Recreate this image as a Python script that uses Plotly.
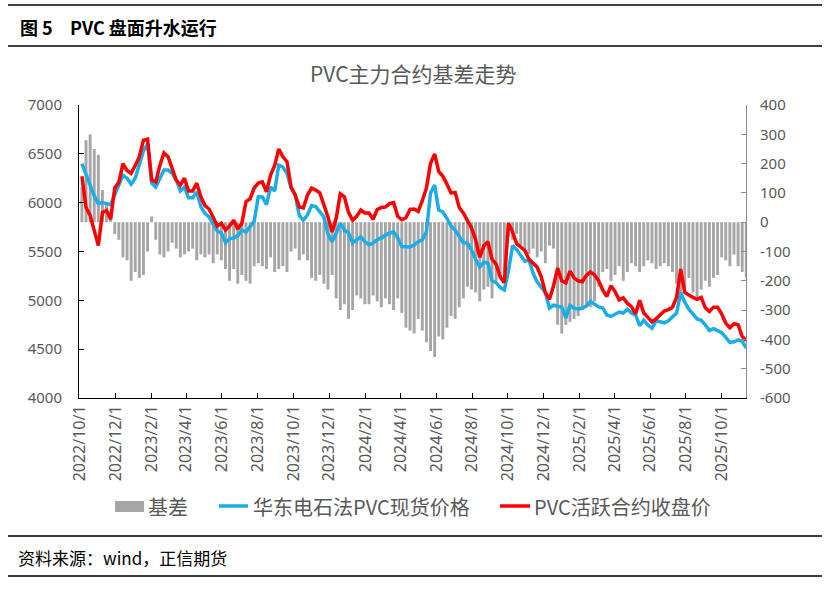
import pandas as pd
import plotly.graph_objects as go

# ---------------- data (weekly readings from the chart) ----------------
week_start = "2022-10-05"
n_weeks = 163

# 基差 (right axis)
basis = [
    120, 280, 300, 250, 230, 110, 60, 40, -40, -60,
    -120, -130, -200, -170, -190, -180, -100, 20, -60, -110,
    -120, -100, -70, -90, -120, -110, -100, -90, -130, -110,
    -120, -110, -140, -110, -130, -160, -200, -160, -210, -180,
    -200, -210, -150, -140, -150, -160, -120, -170, -160, -150,
    -170, -100, -90, -130, -110, -130, -190, -200, -180, -210,
    -230, -180, -260, -300, -280, -330, -300, -250, -260, -280,
    -280, -250, -270, -290, -260, -280, -300, -260, -310, -360,
    -370, -380, -330, -370, -410, -440, -460, -390, -400, -360,
    -320, -330, -290, -260, -220, -230, -240, -270, -230, -220,
    -260, -200, -190, -180, -50, -60, -40, -80, -100, -110,
    -90, -120, -100, -140, -80, -90, -350, -380, -350, -340,
    -330, -320, -300, -290, -290, -270, -220, -170, -160, -200,
    -180, -150, -200, -170, -140, -150, -170, -150, -130, -140,
    -160, -150, -140, -150, -170, -210, -250, -230, -190, -240,
    -260, -230, -200, -220, -190, -180, -120, -130, -150, -110,
    -150, -170, -190,
]

# 华东电石法PVC现货价格 (left axis)
spot = [
    6400, 6290, 6170, 6070, 5990, 6000, 5990, 5980, 6080, 6180,
    6280, 6250, 6190, 6250, 6380, 6530, 6600, 6200, 6160, 6250,
    6334, 6334, 6300, 6230, 6120, 6160, 6050, 6050, 6110, 5960,
    5890, 5853, 5780, 5710, 5690, 5590, 5630, 5640, 5660, 5720,
    5700, 5760, 5810, 6060, 6058, 5980, 6160, 6120, 6385, 6365,
    6300, 6150, 6080, 5870, 5820, 5874, 5970, 5960, 5900, 5853,
    5680, 5600, 5690, 5790, 5720, 5690, 5590, 5618, 5650, 5600,
    5570, 5587, 5620, 5640, 5670, 5690, 5700, 5640, 5550, 5546,
    5546, 5567, 5600, 5618, 5700, 6100, 6180, 5925, 5904, 5840,
    5760, 5720, 5660, 5590, 5587, 5515, 5420, 5341, 5390, 5382,
    5200, 5180, 5130, 5105, 5300, 5560, 5520, 5460, 5400, 5413,
    5280, 5190, 5140, 5080, 4921, 4950, 4940, 4932, 4820, 4950,
    4920, 4910, 4921, 4940, 4990, 4960, 4932, 4921, 4850, 4835,
    4860, 4880, 4870, 4910, 4870, 4850, 4740, 4798, 4747, 4716,
    4790, 4778, 4770, 4790, 4830, 4870, 5080, 4980, 4910, 4865,
    4810, 4795, 4750, 4690, 4710, 4690, 4670, 4620, 4570, 4575,
    4594, 4580, 4510,
]

# PVC活跃合约收盘价 (left axis)
futures = [
    6270, 5950, 5870, 5720, 5560, 5900, 5920, 5830, 6150, 6210,
    6400, 6330, 6300, 6380, 6470, 6640, 6650, 6232, 6210, 6380,
    6510, 6470, 6360, 6230, 6180, 6250, 6120, 6120, 6200, 6060,
    5970, 5935, 5850, 5760, 5790, 5720, 5760, 5820, 5730, 5790,
    6010, 6040, 6150, 6200, 6212, 6110, 6283, 6380, 6550, 6470,
    6420, 6160, 6080, 5955, 5945, 6078, 6150, 6130, 6100, 5980,
    5853, 5700, 5840, 6090, 6060, 5900, 5820, 5860, 5925, 5894,
    5894, 5830, 5930, 5950, 5955, 5990, 6000, 5860, 5825, 5845,
    5930, 5935, 5910, 6020, 6150, 6400, 6500, 6320, 6270, 6190,
    6100, 6105, 5950, 5895, 5820, 5740, 5620, 5440, 5560, 5600,
    5420, 5370, 5240, 5180, 5790, 5700, 5580, 5540, 5510, 5420,
    5380, 5340, 5240, 5080, 5010, 5150, 5330, 5200, 5180, 5300,
    5230, 5200, 5190, 5255, 5290, 5260, 5200, 5105, 5040, 5150,
    5090, 5005, 5024, 4970, 4935, 4860, 5000, 4870, 4825, 4780,
    4810, 4850, 4890, 4905, 4930, 5030, 5320, 5080, 5050, 5030,
    5010, 5030, 4925, 4885, 4930, 4930, 4860, 4765, 4720, 4760,
    4750, 4630, 4590,
]

x_tick_labels = [
    "2022/10/1", "2022/12/1", "2023/2/1", "2023/4/1", "2023/6/1", "2023/8/1",
    "2023/10/1", "2023/12/1", "2024/2/1", "2024/4/1", "2024/6/1", "2024/8/1",
    "2024/10/1", "2024/12/1", "2025/2/1", "2025/4/1", "2025/6/1", "2025/8/1",
    "2025/10/1",
]
left_ticks = [4000, 4500, 5000, 5500, 6000, 6500, 7000]
right_ticks = [-600, -500, -400, -300, -200, -100, 0, 100, 200, 300, 400]
right_tick_labels = ["-600", "-500", "-400", "-300", "-200", "-100", "0",
                     "100", "200", "300", "400"]

series_names = ["基差", "华东电石法PVC现货价格", "PVC活跃合约收盘价"]
header_no = "图 5"
header_text = "PVC 盘面升水运行"
chart_title = "PVC主力合约基差走势"
source_text = "资料来源：wind，正信期货"

# ---------------- layout helpers ----------------
W, H = 833, 591
L, R, T, B = 79, 746, 105, 398


def px(x):
    return (x - L) / (R - L)


def py(y):
    return (B - y) / (B - T)


dates = pd.date_range(week_start, periods=n_weeks, freq="7D")
tick_vals = pd.to_datetime(x_tick_labels, format="%Y/%m/%d")

NUM_FONT = "Noto Sans, Liberation Sans, sans-serif"
CJK_FONT = "Noto Sans CJK SC, Noto Sans, sans-serif"
GRAY_TXT = "#595959"
BAR_C = "#A6A6A6"
BLUE = "#1AADE8"
RED = "#FF0000"

fig = go.Figure()
fig.add_trace(go.Bar(
    x=dates, y=basis, name=series_names[0], yaxis="y",
    width=5 * 86400000, marker=dict(color=BAR_C, line=dict(width=0)),
    showlegend=False,
))
fig.add_trace(go.Scatter(
    x=dates, y=spot, name=series_names[1], yaxis="y2", mode="lines",
    line=dict(color=BLUE, width=3.5), showlegend=False,
))
fig.add_trace(go.Scatter(
    x=dates, y=futures, name=series_names[2], yaxis="y2", mode="lines",
    line=dict(color=RED, width=3.5), showlegend=False,
))

shapes = []
for yy in (5, 46, 536, 576):
    shapes.append(dict(type="line", xref="paper", yref="paper",
                       x0=px(8), x1=px(822), y0=py(yy), y1=py(yy),
                       line=dict(color="black", width=1.3)))
# manual legend symbols
shapes.append(dict(type="rect", xref="paper", yref="paper",
                   x0=px(115), x1=px(144), y0=py(512), y1=py(501),
                   fillcolor=BAR_C, line=dict(width=0)))
shapes.append(dict(type="line", xref="paper", yref="paper",
                   x0=px(219), x1=px(248), y0=py(506), y1=py(506),
                   line=dict(color=BLUE, width=3.5)))
shapes.append(dict(type="line", xref="paper", yref="paper",
                   x0=px(500), x1=px(530), y0=py(506), y1=py(506),
                   line=dict(color=RED, width=3.5)))

annotations = [
    dict(text="<b>" + header_no + "</b>", x=px(18), y=py(27), xanchor="left",
         yanchor="middle", font=dict(family=CJK_FONT, size=18, color="black")),
    dict(text="<b>" + header_text + "</b>", x=px(68), y=py(27), xanchor="left",
         yanchor="middle", font=dict(family=CJK_FONT, size=18, color="black")),
    dict(text=chart_title, x=px(413), y=py(73), xanchor="center",
         yanchor="middle", font=dict(family=CJK_FONT, size=21, color=GRAY_TXT)),
    dict(text=series_names[0], x=px(146), y=py(506), xanchor="left",
         yanchor="middle", font=dict(family=CJK_FONT, size=20, color=GRAY_TXT)),
    dict(text=series_names[1], x=px(251), y=py(506), xanchor="left",
         yanchor="middle", font=dict(family=CJK_FONT, size=20, color=GRAY_TXT)),
    dict(text=series_names[2], x=px(532), y=py(506), xanchor="left",
         yanchor="middle", font=dict(family=CJK_FONT, size=20, color=GRAY_TXT)),
    dict(text=source_text, x=px(16), y=py(557), xanchor="left",
         yanchor="middle", font=dict(family=CJK_FONT, size=17, color="black")),
]
for a in annotations:
    a.update(xref="paper", yref="paper", showarrow=False)

tickfont = dict(family=NUM_FONT, size=15, color=GRAY_TXT)
xtickfont = dict(family=NUM_FONT, size=16, color=GRAY_TXT)

fig.update_layout(
    width=W, height=H,
    margin=dict(l=L, r=W - R, t=T, b=H - B, pad=0),
    paper_bgcolor="white", plot_bgcolor="white",
    showlegend=False,
    hovermode=False,
    xaxis=dict(
        type="date", range=["2022-09-30", "2025-11-11 12:00"],
        tickvals=tick_vals, ticktext=x_tick_labels, tickangle=-90,
        ticks="inside", ticklen=5, tickcolor="black",
        showline=True, linecolor="black", linewidth=1,
        showgrid=False, zeroline=False, tickfont=xtickfont,
    ),
    yaxis=dict(
        side="right", range=[-600, 400],
        tickvals=right_ticks, ticktext=right_tick_labels,
        ticks="inside", ticklen=5, tickcolor="#8C8C8C",
        showline=True, linecolor="#8C8C8C", linewidth=1,
        showgrid=False, zeroline=False, tickfont=tickfont,
        ticklabelstandoff=10,
    ),
    yaxis2=dict(
        side="left", overlaying="y", anchor="x", range=[4000, 7000],
        tickvals=left_ticks,
        ticks="inside", ticklen=5, tickcolor="black",
        showline=True, linecolor="black", linewidth=1,
        showgrid=False, zeroline=False, tickfont=tickfont,
        ticklabelstandoff=13,
    ),
    shapes=shapes,
    annotations=annotations,
)

fig.write_html("out.html",
               config={"displayModeBar": False, "staticPlot": True},
               post_script="document.body.style.margin='0px';"
                           "document.body.style.overflow='hidden';")
